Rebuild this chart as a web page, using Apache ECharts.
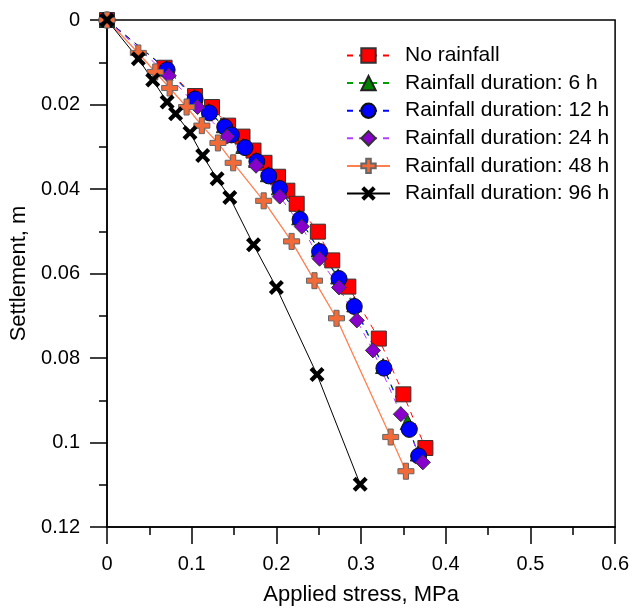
<!DOCTYPE html>
<html><head><meta charset="utf-8">
<script src="https://cdn.jsdelivr.net/npm/echarts@6/dist/echarts.min.js"></script>
<style>html,body{margin:0;padding:0;background:#fff}#c{width:632px;height:611px}</style>
</head><body><div id="c"></div>
<script>
var seriesNames = ['No rainfall','Rainfall duration: 6 h','Rainfall duration: 12 h','Rainfall duration: 24 h','Rainfall duration: 48 h','Rainfall duration: 96 h'];
var yTicks = [0,0.02,0.04,0.06,0.08,0.1,0.12];
var xTicks = [0,0.1,0.2,0.3,0.4,0.5,0.6];
// [stress MPa, settlement m]
var noRain = [[0,0],[0.068,0.0113],[0.104,0.0180],[0.124,0.0206],[0.143,0.0250],[0.160,0.0276],[0.173,0.0309],[0.186,0.0338],[0.202,0.0371],[0.213,0.0404],[0.224,0.0435],[0.249,0.0501],[0.266,0.0569],[0.285,0.0631],[0.321,0.0754],[0.350,0.0886],[0.376,0.1013]];
var rain6 = [[0,0],[0.070,0.0115],[0.103,0.0183],[0.120,0.0216],[0.138,0.0249],[0.147,0.0268],[0.161,0.0298],[0.176,0.0331],[0.190,0.0365],[0.203,0.0396],[0.227,0.0467],[0.250,0.0543],[0.273,0.0607],[0.292,0.0673],[0.326,0.0819],[0.355,0.0952],[0.367,0.1026]];
var rain12 = [[0,0],[0.071,0.0118],[0.104,0.0187],[0.121,0.0220],[0.139,0.0253],[0.147,0.0272],[0.163,0.0302],[0.177,0.0335],[0.191,0.0369],[0.204,0.0399],[0.228,0.0472],[0.251,0.0548],[0.274,0.0612],[0.292,0.0678],[0.327,0.0824],[0.357,0.0969],[0.368,0.1032]];
var rain24 = [[0,0],[0.073,0.0132],[0.107,0.0206],[0.142,0.0276],[0.176,0.0345],[0.204,0.0418],[0.230,0.0489],[0.251,0.0565],[0.274,0.0633],[0.295,0.0711],[0.314,0.0782],[0.347,0.0933],[0.373,0.1047]];
var rain48 = [[0,0],[0.037,0.0078],[0.057,0.0123],[0.074,0.0161],[0.094,0.0206],[0.112,0.0250],[0.131,0.0291],[0.149,0.0338],[0.185,0.0428],[0.218,0.0524],[0.245,0.0617],[0.271,0.0706],[0.335,0.0987],[0.353,0.1068]];
var rain96 = [[0,0],[0.037,0.0092],[0.054,0.0142],[0.071,0.0194],[0.081,0.0222],[0.098,0.0267],[0.113,0.0321],[0.130,0.0376],[0.145,0.0420],[0.173,0.0532],[0.200,0.0633],[0.248,0.0839],[0.299,0.1099]];

var FONT = 'Liberation Sans, Arial, sans-serif';
var plusPath = 'path://M3.4,0 H6.6 V3.4 H10 V6.6 H6.6 V10 H3.4 V6.6 H0 V3.4 H3.4 Z';
var crossPath = 'path://M2,0 L5,3 L8,0 L10,2 L7,5 L10,8 L8,10 L5,7 L2,10 L0,8 L3,5 L0,2 Z';

function mk(name, data, symbol, size, fill, border, bw, lineColor, lineType, lineW){
  return {name:name, type:'line', data:data, symbol:symbol, symbolSize:size, clip:false,
    showAllSymbol:true,
    itemStyle:{color:fill, borderColor:border, borderWidth:bw, opacity:1},
    lineStyle:{color:lineColor, type:lineType, width:lineW},
    emphasis:{disabled:true}, animation:false};
}
var chart = echarts.init(document.getElementById('c'), null, {renderer:'canvas'});
chart.setOption({
  animation:false,
  grid:{left:107, top:20, right:16, bottom:83, show:true, borderColor:'#000', borderWidth:1.5, backgroundColor:'transparent'},
  legend:{orient:'vertical', left:341, top:40, itemWidth:43, itemHeight:18, itemGap:6.6,
    textStyle:{fontFamily:FONT, fontSize:21, color:'#000', padding:[0,0,0,10]},
    data:seriesNames},
  xAxis:{type:'value', min:xTicks[0], max:xTicks[xTicks.length-1], interval:0.1,
    name:'Applied stress, MPa', nameLocation:'middle', nameGap:57,
    nameTextStyle:{fontFamily:FONT, fontSize:22, color:'#000'},
    axisLine:{show:true, onZero:false, lineStyle:{color:'#000', width:1.5}},
    axisTick:{show:true, inside:false, length:17, lineStyle:{color:'#000', width:1.5}},
    minorTick:{show:true, splitNumber:2, length:8, lineStyle:{color:'#000', width:1.5}},
    splitLine:{show:false},
    axisLabel:{fontFamily:FONT, fontSize:20, color:'#000', margin:27,
      formatter:function(v){return String(+v.toFixed(2));}}},
  yAxis:{type:'value', inverse:true, min:yTicks[0], max:yTicks[yTicks.length-1], interval:0.02,
    name:'Settlement, m', nameLocation:'middle', nameGap:74, nameRotate:90,
    nameTextStyle:{fontFamily:FONT, fontSize:22, color:'#000'},
    axisLine:{show:true, onZero:false, lineStyle:{color:'#000', width:1.5}},
    axisTick:{show:true, inside:false, length:17, lineStyle:{color:'#000', width:1.5}},
    minorTick:{show:true, splitNumber:2, length:8, lineStyle:{color:'#000', width:1.5}},
    splitLine:{show:false},
    axisLabel:{fontFamily:FONT, fontSize:20, color:'#000', margin:27,
      formatter:function(v){return String(+v.toFixed(3));}}},
  series:[
    mk(seriesNames[0], noRain, 'rect', 15, '#ff0000', '#333', 1, '#ff0000', [6,6], 1),
    mk(seriesNames[1], rain6, 'triangle', 15, '#008000', '#222', 1, '#00a000', [6,6], 1),
    mk(seriesNames[2], rain12, 'circle', 16, '#0000ff', '#111', 1, '#0000ff', [6,6], 1),
    mk(seriesNames[3], rain24, 'diamond', 15, '#8800cc', '#333', 1, '#b040ff', [6,6], 1),
    mk(seriesNames[4], rain48, plusPath, 16, '#f26a38', '#666', 1, '#ff7f50', 'solid', 1.3),
    mk(seriesNames[5], rain96, crossPath, 15, '#000000', '#000', 0, '#000000', 'solid', 1)
  ]
});
</script></body></html>
